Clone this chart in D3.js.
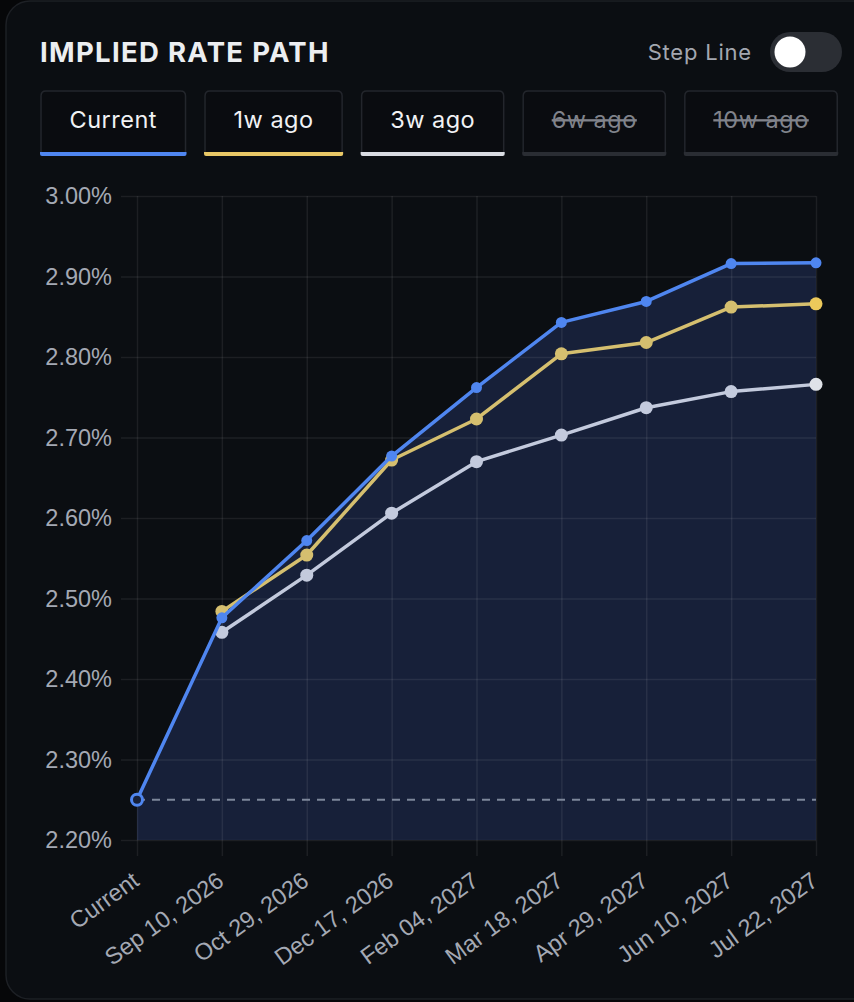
<!DOCTYPE html>
<html>
<head>
<meta charset="utf-8">
<script src="https://cdn.jsdelivr.net/npm/d3@7"></script>
<style>
  html, body { margin: 0; padding: 0; background: #060709; }
  svg { display: block; }
</style>
</head>
<body>
<svg id="chart" width="854" height="1002"></svg>
<script>
// fechas del eje x
var fechas = ['Current', 'Sep 10, 2026', 'Oct 29, 2026', 'Dec 17, 2026', 'Feb 04, 2027',
  'Mar 18, 2027', 'Apr 29, 2027', 'Jun 10, 2027', 'Jul 22, 2027'];

// tasas implicitas (%), null = sin dato
var serieActual = [2.25, 2.476, 2.572, 2.677, 2.762, 2.843, 2.869, 2.916, 2.917];
var serie1w = [null, 2.484, 2.554, 2.672, 2.723, 2.804, 2.818, 2.862, 2.866];
var serie3w = [null, 2.458, 2.529, 2.606, 2.670, 2.703, 2.737, 2.757, 2.766];

var tasaActual = 2.25;

var yTicks = [2.2, 2.3, 2.4, 2.5, 2.6, 2.7, 2.8, 2.9, 3.0];

var botones = [
  { label: 'Current', color: '#4f86f0', activo: true },
  { label: '1w ago', color: '#e9c866', activo: true },
  { label: '3w ago', color: '#d9dce2', activo: true },
  { label: '6w ago', color: '#2a2d33', activo: false },
  { label: '10w ago', color: '#2a2d33', activo: false }
];

var svg = d3.select('#chart');
var FONT_UI = 'Inter, "Noto Sans", sans-serif';
var FONT_AXIS = '"Liberation Sans", Arial, sans-serif';

// tarjeta de fondo
svg.append('rect')
  .attr('x', 6).attr('y', 1)
  .attr('width', 900).attr('height', 998)
  .attr('rx', 24)
  .attr('fill', '#0b0e12')
  .attr('stroke', '#1d2025')
  .attr('stroke-width', 1.5);

function dibujarCabecera(){

  svg.append('text')
    .attr('x', 40).attr('y', 62)
    .attr('font-family', FONT_UI)
    .attr('font-weight', 700)
    .attr('font-size', 27.5)
    .attr('letter-spacing', 1.3)
    .attr('fill', '#eceef1')
    .text('IMPLIED RATE PATH');

  svg.append('text')
    .attr('x', 752).attr('y', 60)
    .attr('text-anchor', 'end')
    .attr('font-family', FONT_UI)
    .attr('font-size', 22)
    .attr('letter-spacing', 0.8)
    .attr('fill', '#a3a7b0')
    .text('Step Line');

  svg.append('rect')
    .attr('x', 770).attr('y', 32)
    .attr('width', 72).attr('height', 40)
    .attr('rx', 20)
    .attr('fill', '#2b2e34');

  svg.append('circle')
    .attr('cx', 790).attr('cy', 52).attr('r', 15.5)
    .attr('fill', '#ffffff');

  // botones de series
  var x = 40;
  var gBotones = svg.append('g');

  gBotones.selectAll('g').data(botones).enter().append('g')
    .each(function(d){

      var g = d3.select(this);

      var t = g.append('text')
        .attr('y', 128)
        .attr('text-anchor', 'middle')
        .attr('font-family', FONT_UI)
        .attr('font-size', 23.5)
        .attr('letter-spacing', 0.5)
        .attr('fill', d.activo ? '#f1f2f4' : '#80838b')
        .attr('text-decoration', d.activo ? null : 'line-through')
        .text(d.label);

      var w = t.node().getComputedTextLength() + 59;

      g.insert('path', 'text')
        .attr('d', 'M' + (x + 1) + ',' + 152 + ' L' + (x + 1) + ',' + 96 +
          ' Q' + (x + 1) + ',' + 91 + ' ' + (x + 6) + ',' + 91 +
          ' L' + (x + w - 6) + ',' + 91 +
          ' Q' + (x + w - 1) + ',' + 91 + ' ' + (x + w - 1) + ',' + 96 +
          ' L' + (x + w - 1) + ',' + 152)
        .attr('fill', '#0a0c10')
        .attr('stroke', '#23262c')
        .attr('stroke-width', 1.5);

      g.insert('path', 'text')
        .attr('d', 'M' + x + ',' + 152 + ' L' + (x + w) + ',' + 152 +
          ' L' + (x + w) + ',' + 154 + ' Q' + (x + w) + ',' + 156 + ' ' + (x + w - 2) + ',' + 156 +
          ' L' + (x + 2) + ',' + 156 + ' Q' + x + ',' + 156 + ' ' + x + ',' + 154 + ' Z')
        .attr('fill', d.color);

      t.attr('x', x + w / 2);
      x += w + 17.5;
    });
}

function dibujarGrafico(){

  var x = d3.scalePoint().domain(fechas).range([137, 816]);
  var y = d3.scaleLinear().domain([2.2, 3.0]).range([840, 196]);

  var datosActual = fechas.map(function(f, i){ return { fecha: f, valor: serieActual[i] }; });
  var datos1w = fechas.map(function(f, i){ return { fecha: f, valor: serie1w[i] }; })
    .filter(function(d){ return d.valor != null; });
  var datos3w = fechas.map(function(f, i){ return { fecha: f, valor: serie3w[i] }; })
    .filter(function(d){ return d.valor != null; });

  // area bajo la curva actual
  var area = d3.area()
    .x(function(d){ return x(d.fecha); })
    .y0(y(2.2))
    .y1(function(d){ return y(d.valor); });

  svg.append('path')
    .datum(datosActual)
    .attr('d', area)
    .attr('fill', '#172039');

  // grilla + ejes
  var ejeY = svg.append('g')
    .attr('transform', 'translate(137,0)')
    .call(d3.axisLeft(y).tickValues(yTicks)
      .tickSizeOuter(0)
      .tickFormat(d3.format('.2f')))
  ;
  ejeY.select('.domain').remove();
  ejeY.selectAll('.tick line')
    .attr('x1', -16).attr('x2', 816 - 137)
    .attr('stroke', '#ffffff').attr('stroke-opacity', 0.075).attr('stroke-width', 1.5);
  ejeY.selectAll('.tick text')
    .attr('x', -25)
    .attr('font-family', FONT_AXIS)
    .attr('font-size', 23.5)
    .attr('fill', '#a4a9b4')
    .text(function(d){ return d3.format('.2f')(d) + '%'; });

  var ejeX = svg.append('g')
    .attr('transform', 'translate(0,840)')
    .call(d3.axisBottom(x).tickSizeOuter(0));
  ejeX.select('.domain').remove();
  ejeX.selectAll('.tick line')
    .attr('y1', -(840 - 196)).attr('y2', 16)
    .attr('stroke', '#ffffff').attr('stroke-opacity', 0.075).attr('stroke-width', 1.5);
  ejeX.selectAll('.tick text')
    .attr('font-family', FONT_AXIS)
    .attr('font-size', 23.5)
    .attr('fill', '#a4a9b4')
    .attr('text-anchor', 'end')
    .attr('dy', null)
    .attr('y', 0)
    .attr('transform', 'translate(3,44) rotate(-36)');

  // linea de tasa actual
  svg.append('line')
    .attr('x1', x(fechas[0])).attr('x2', x(fechas[fechas.length - 1]))
    .attr('y1', y(tasaActual)).attr('y2', y(tasaActual))
    .attr('stroke', '#7d879b')
    .attr('stroke-width', 2)
    .attr('stroke-dasharray', '8,7');

  var linea = d3.line()
    .x(function(d){ return x(d.fecha); })
    .y(function(d){ return y(d.valor); });

  var series = [
    { datos: datos3w, color: '#c3cadd', ultimo: '#dfe2e8', r: 6.5 },
    { datos: datos1w, color: '#d5bf6f', ultimo: '#ecc95b', r: 6.5 },
    { datos: datosActual, color: '#4f86f0', ultimo: '#4f86f0', r: 5.5 }
  ];

  series.forEach(function(s, ix){

    var g = svg.append('g');

    g.append('path')
      .datum(s.datos)
      .attr('d', linea)
      .attr('fill', 'none')
      .attr('stroke', s.color)
      .attr('stroke-width', 3.5)
      .attr('stroke-linejoin', 'round');

    g.selectAll('circle').data(s.datos).enter().append('circle')
      .attr('cx', function(d){ return x(d.fecha); })
      .attr('cy', function(d){ return y(d.valor); })
      .attr('r', function(d, i){ return (ix === 2 && i === 0) ? 5.5 : s.r; })
      .attr('fill', function(d, i){
        if (ix === 2 && i === 0) return '#172039';
        return i === s.datos.length - 1 ? s.ultimo : s.color;
      })
      .attr('stroke', function(d, i){ return (ix === 2 && i === 0) ? s.color : 'none'; })
      .attr('stroke-width', 3);
  });
}

dibujarCabecera();
dibujarGrafico();
</script>
</body>
</html>
